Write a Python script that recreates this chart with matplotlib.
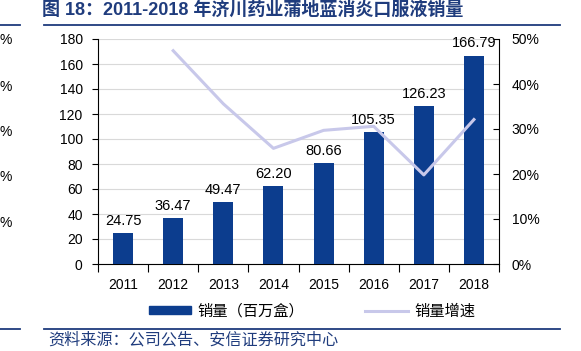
import matplotlib
matplotlib.use("Agg")
import matplotlib.pyplot as plt
from matplotlib.lines import Line2D
from matplotlib.patches import Patch
import numpy as np

years = ["2011", "2012", "2013", "2014", "2015", "2016", "2017", "2018"]
sales = [24.75, 36.47, 49.47, 62.20, 80.66, 105.35, 126.23, 166.79]
growth = [None, 0.474, 0.356, 0.257, 0.297, 0.306, 0.198, 0.321]
left_ticks = [0, 20, 40, 60, 80, 100, 120, 140, 160, 180]
right_ticks = [0, 0.1, 0.2, 0.3, 0.4, 0.5]

title = "图 18：2011-2018 年济川药业蒲地蓝消炎口服液销量"
source = "资料来源：公司公告、安信证券研究中心"
bar_label = "销量（百万盒）"
line_label = "销量增速"

LAT = ["Liberation Sans", "Noto Sans CJK SC"]
CJK = ["Noto Sans CJK SC", "DejaVu Sans"]
plt.rcParams["font.family"] = LAT

W, H = 581, 351
fig = plt.figure(figsize=(W / 100, H / 100), dpi=100)
ax = fig.add_axes([98 / W, 1 - 264 / H, (499 - 98) / W, (264 - 39) / H])

bar_color = "#0C3D8E"
line_color = "#C8C8EA"
navy = "#1F3C7D"
fs = 10

x = np.arange(len(years))
ax.bar(x, sales, width=0.4, color=bar_color, zorder=3)
ax.set_xlim(-0.5, len(years) - 0.5)
ax.set_ylim(0, 180)
ax.set_yticks(left_ticks)
ax.set_xticks(x)
ax.set_xticklabels(years)
ax.set_xticks(np.arange(-0.5, len(years), 1), minor=True)
ax.tick_params(axis="x", which="major", length=0, labelsize=fs, pad=10)
ax.tick_params(axis="x", which="minor", length=6, direction="out", width=0.8)
ax.tick_params(axis="y", length=4, direction="out", labelsize=fs, width=0.8, pad=7)
ax.yaxis.grid(True, color="#D9D9D9", linewidth=0.8, zorder=0)
for s in ["top", "right"]:
    ax.spines[s].set_visible(False)
for s in ["left", "bottom"]:
    ax.spines[s].set_linewidth(0.8)

for xi, v in zip(x, sales):
    ax.annotate(f"{v:.2f}", (xi, v), xytext=(0, 4), textcoords="offset points",
                ha="center", va="bottom", fontsize=10.5)

ax2 = ax.twinx()
gx = [xi for xi, g in zip(x, growth) if g is not None]
gy = [g for g in growth if g is not None]
ax2.plot(gx, gy, color=line_color, linewidth=2.2, zorder=4)
ax2.set_ylim(0, 0.5)
ax2.set_yticks(right_ticks)
ax2.set_yticklabels([f"{int(round(t*100))}%" for t in right_ticks])
ax2.tick_params(axis="y", length=4, direction="in", labelsize=fs, width=0.8, pad=9)
for s in ["top", "left", "bottom"]:
    ax2.spines[s].set_visible(False)
ax2.spines["right"].set_linewidth(0.8)

# title and rules
fig.text(42 / W, 1 - 11 / H, title, fontsize=13, fontweight="bold", color=navy,
         ha="left", va="center", family=LAT)
for yy in [25, 329]:
    fig.add_artist(Line2D([0, 20 / W], [1 - yy / H] * 2, color=navy, lw=1.3))
    fig.add_artist(Line2D([44 / W, 560 / W], [1 - yy / H] * 2, color=navy, lw=1.3))

# partial labels from neighbouring chart
for yy in [40, 87, 132, 177, 223]:
    fig.text(-1 / W, 1 - yy / H, "%", fontsize=fs, ha="left", va="center")

# legend
handles = [Patch(color=bar_color), Line2D([0], [0], color=line_color, lw=2.2)]
fig.legend(handles, [bar_label, line_label], loc="center",
           bbox_to_anchor=(312 / W, 1 - 311 / H), ncol=2, frameon=False,
           prop={"family": CJK, "size": 11}, handlelength=2.8,
           handleheight=0.5, columnspacing=4.0, handletextpad=0.4)

fig.text(48 / W, 1 - 340 / H, source, fontsize=11.6, color=navy, ha="left",
         va="center", family=CJK, style="italic")

fig.savefig("out.png", dpi=100)
